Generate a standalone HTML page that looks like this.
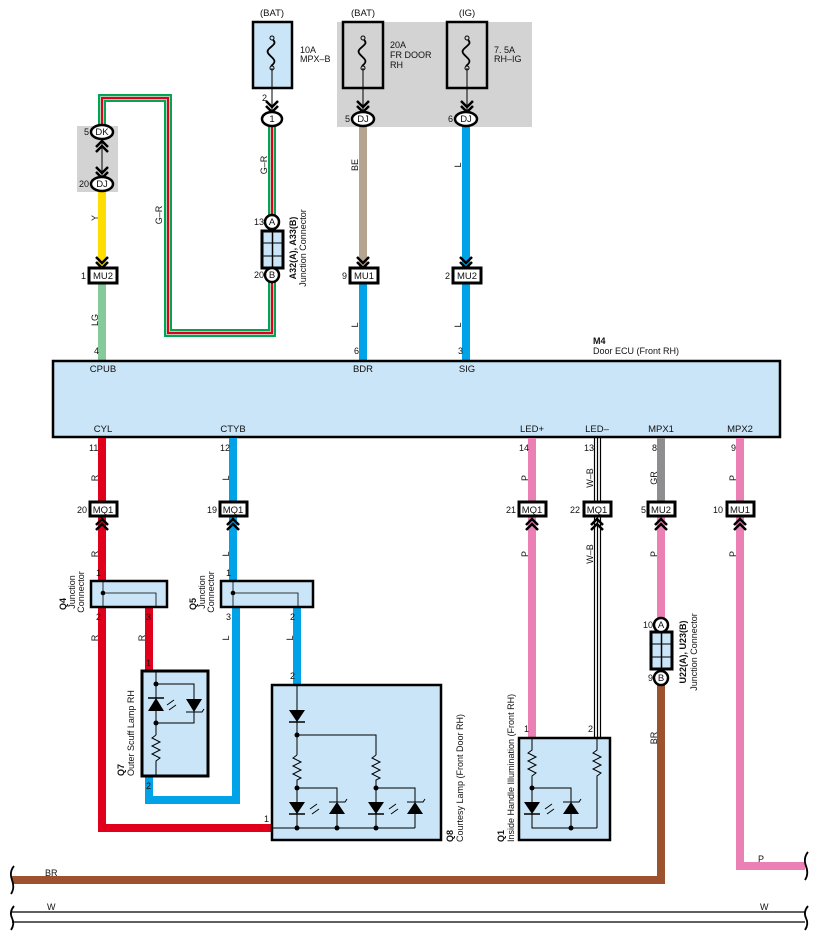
<!DOCTYPE html>
<html><head><meta charset="utf-8"><style>
html,body{margin:0;padding:0;background:#fff;}
svg{display:block;font-family:"Liberation Sans",sans-serif;}
.t{font-size:9px;fill:#111;}
.b{font-weight:bold;}
.c{font-size:9.5px;fill:#111;text-anchor:middle;}
.e{font-size:9px;fill:#111;text-anchor:end;}
</style></head><body>
<svg width="818" height="940" viewBox="0 0 818 940" xmlns="http://www.w3.org/2000/svg">
<defs>
<g id="chD"><polyline points="-6,-9 0,-3 6,-9" fill="none" stroke="#000" stroke-width="2.5"/><polyline points="-6,-4 0,2 6,-4" fill="none" stroke="#000" stroke-width="2.5"/></g>
<g id="chU"><polyline points="-6,9 0,3 6,9" fill="none" stroke="#000" stroke-width="2.5"/><polyline points="-6,4 0,-2 6,4" fill="none" stroke="#000" stroke-width="2.5"/></g>
<g id="fuse"><circle cx="0" cy="-15" r="2" fill="none" stroke="#000" stroke-width="1"/><circle cx="0" cy="15" r="2" fill="none" stroke="#000" stroke-width="1"/><path d="M1,-13 C7,-8 -7,-5 -4,0 C-1,5 7,7 -1,13" fill="none" stroke="#000" stroke-width="1.8"/></g>
<g id="jc"><rect x="-10" y="0" width="21" height="37" fill="#c9e5f7" stroke="#000" stroke-width="3"/><line x1="0.5" y1="0" x2="0.5" y2="37" stroke="#000" stroke-width="1.5"/><line x1="-10" y1="12" x2="11" y2="12" stroke="#000" stroke-width="1"/><line x1="-10" y1="25" x2="11" y2="25" stroke="#000" stroke-width="1"/></g>
</defs>

<rect x="77" y="126" width="41" height="66" fill="#d3d3d3"/>
<rect x="337" y="22" width="195" height="105" fill="#d3d3d3"/>

<rect x="253" y="22" width="39" height="66" fill="#c9e5f7" stroke="#000" stroke-width="2.5"/>
<use href="#fuse" x="272" y="53"/>
<rect x="343" y="22" width="40" height="66" fill="#d3d3d3" stroke="#000" stroke-width="2.5"/>
<use href="#fuse" x="363" y="53"/>
<rect x="447" y="22" width="40" height="66" fill="#d3d3d3" stroke="#000" stroke-width="2.5"/>
<use href="#fuse" x="467" y="53"/>
<text class="c" x="272" y="16">(BAT)</text>
<text class="c" x="363" y="16">(BAT)</text>
<text class="c" x="467" y="16">(IG)</text>
<text class="t" x="300" y="53">10A</text><text class="t" x="300" y="62">MPX–B</text>
<text class="t" x="390" y="48">20A</text><text class="t" x="390" y="58">FR DOOR</text><text class="t" x="390" y="68">RH</text>
<text class="t" x="494" y="53">7. 5A</text><text class="t" x="494" y="62">RH–IG</text>
<line x1="272" y1="68" x2="272" y2="110" stroke="#000" stroke-width="1"/>
<line x1="363" y1="68" x2="363" y2="110" stroke="#000" stroke-width="1"/>
<line x1="467" y1="68" x2="467" y2="110" stroke="#000" stroke-width="1"/>
<use href="#chD" x="272" y="110"/><use href="#chD" x="363" y="110"/><use href="#chD" x="467" y="110"/>
<text class="t" x="262" y="101">2</text>

<polyline points="272,126 272,333 168,333 168,98 102,98 102,126" fill="none" stroke="#00a651" stroke-width="8"/>
<polyline points="272,126 272,333 168,333 168,98 102,98 102,126" fill="none" stroke="#fff" stroke-width="3.5"/>
<polyline points="272,126 272,333 168,333 168,98 102,98 102,126" fill="none" stroke="#e0001b" stroke-width="2.2"/>
<use href="#jc" x="272" y="231"/>

<line x1="102" y1="138" x2="102" y2="178" stroke="#000" stroke-width="1"/>
<use href="#chU" x="102" y="143"/><use href="#chD" x="102" y="176"/>

<line x1="102" y1="190" x2="102" y2="268" stroke="#ffdd00" stroke-width="8"/>
<line x1="102" y1="283" x2="102" y2="361" stroke="#86c99b" stroke-width="8"/>
<line x1="363" y1="126" x2="363" y2="268" stroke="#b5a58f" stroke-width="8"/>
<line x1="363" y1="283" x2="363" y2="361" stroke="#00a3e8" stroke-width="8"/>
<line x1="466" y1="126" x2="466" y2="268" stroke="#00a3e8" stroke-width="8"/>
<line x1="466" y1="283" x2="466" y2="361" stroke="#00a3e8" stroke-width="8"/>
<use href="#chD" x="102" y="266"/><use href="#chD" x="363" y="266"/><use href="#chD" x="466" y="266"/>

<g fill="#fff" stroke="#000" stroke-width="2.5">
<ellipse cx="102" cy="132" rx="11" ry="7"/><ellipse cx="102" cy="184" rx="11" ry="7"/>
<ellipse cx="272" cy="119" rx="10" ry="7"/>
<ellipse cx="363" cy="119" rx="11" ry="7"/><ellipse cx="466" cy="119" rx="11" ry="7"/>
<circle cx="272" cy="222" r="7"/><circle cx="272" cy="275" r="7"/>
</g>
<text class="c" x="102" y="135">DK</text><text class="c" x="102" y="187">DJ</text>
<text class="c" x="272" y="122">1</text><text class="c" x="363" y="122">DJ</text><text class="c" x="466" y="122">DJ</text>
<text class="c" x="272" y="225">A</text><text class="c" x="272" y="278">B</text>
<text class="e" x="89" y="135">5</text><text class="e" x="89" y="187">20</text>
<text class="e" x="350" y="122">5</text><text class="e" x="453" y="122">6</text>
<text class="e" x="264" y="225">13</text><text class="e" x="264" y="278">20</text>
<text class="t b" transform="translate(296,248) rotate(-90)" text-anchor="middle">A32(A), A33(B)</text>
<text class="t" transform="translate(306,248) rotate(-90)" text-anchor="middle">Junction Connector</text>

<g fill="#fff" stroke="#000" stroke-width="3">
<rect x="89" y="268" width="28" height="15"/><rect x="350" y="268" width="28" height="15"/><rect x="453" y="268" width="28" height="15"/>
</g>
<text class="c" x="103" y="279">MU2</text><text class="c" x="364" y="279">MU1</text><text class="c" x="467" y="279">MU2</text>
<text class="t" x="81" y="279">1</text><text class="t" x="342" y="279">9</text><text class="t" x="445" y="279">2</text>

<g class="t" text-anchor="middle">
<text transform="translate(98,218) rotate(-90)">Y</text>
<text transform="translate(98,320) rotate(-90)">LG</text>
<text transform="translate(162,215) rotate(-90)">G–R</text>
<text transform="translate(267,165) rotate(-90)">G–R</text>
<text transform="translate(358,165) rotate(-90)">BE</text>
<text transform="translate(358,325) rotate(-90)">L</text>
<text transform="translate(461,165) rotate(-90)">L</text>
<text transform="translate(461,325) rotate(-90)">L</text>
</g>

<rect x="53" y="361" width="727" height="76" fill="#c9e5f7" stroke="#000" stroke-width="2.5"/>
<text class="t b" x="593" y="344">M4</text>
<text class="t" x="593" y="354">Door ECU (Front RH)</text>
<text class="t" x="94" y="354">4</text><text class="t" x="354" y="354">6</text><text class="t" x="458" y="354">3</text>
<text class="c" x="103" y="372">CPUB</text><text class="c" x="363" y="372">BDR</text><text class="c" x="467" y="372">SIG</text>
<text class="c" x="103" y="432">CYL</text><text class="c" x="233" y="432">CTYB</text><text class="c" x="532" y="432">LED+</text><text class="c" x="597" y="432">LED–</text><text class="c" x="661" y="432">MPX1</text><text class="c" x="740" y="432">MPX2</text>

<polyline points="102,438 102,828 272,828" fill="none" stroke="#e0001b" stroke-width="8"/>
<line x1="149" y1="607" x2="149" y2="670" stroke="#e0001b" stroke-width="8"/>
<line x1="233" y1="438" x2="233" y2="580" stroke="#00a3e8" stroke-width="8"/>
<polyline points="149,776 149,800 236,800 236,607" fill="none" stroke="#00a3e8" stroke-width="8"/>
<line x1="297" y1="607" x2="297" y2="684" stroke="#00a3e8" stroke-width="8"/>
<line x1="532" y1="438" x2="532" y2="738" stroke="#ea80b4" stroke-width="8"/>
<g stroke="#000" stroke-width="1.2"><line x1="594.5" y1="438" x2="594.5" y2="738"/><line x1="597.5" y1="438" x2="597.5" y2="738"/><line x1="600.5" y1="438" x2="600.5" y2="738"/></g>
<line x1="661" y1="438" x2="661" y2="502" stroke="#8e8e90" stroke-width="8"/>
<line x1="661" y1="516" x2="661" y2="620" stroke="#ea80b4" stroke-width="8"/>
<polyline points="661,680 661,880 12,880" fill="none" stroke="#9c522e" stroke-width="8"/>
<polyline points="740,438 740,866 805,866" fill="none" stroke="#ea80b4" stroke-width="8"/>
<line x1="12" y1="912" x2="805" y2="912" stroke="#000" stroke-width="1.3"/>
<line x1="12" y1="922" x2="805" y2="922" stroke="#000" stroke-width="1.3"/>
<g fill="none" stroke="#000" stroke-width="1.8">
<path d="M14,866 Q9,872 12,880 Q15,888 11,894"/>
<path d="M14,906 Q9,912 12,918 Q15,924 11,930"/>
<path d="M808,852 Q803,858 806,866 Q809,874 805,880"/>
<path d="M808,906 Q803,912 806,918 Q809,924 805,930"/>
</g>
<text class="t" x="45" y="876">BR</text><text class="t" x="758" y="862">P</text>
<text class="t" x="47" y="910">W</text><text class="t" x="760" y="910">W</text>

<g fill="#fff" stroke="#000" stroke-width="3">
<rect x="90" y="502" width="27" height="14"/><rect x="220" y="502" width="27" height="14"/>
<rect x="519" y="502" width="27" height="14"/><rect x="584" y="502" width="27" height="14"/>
<rect x="648" y="502" width="27" height="14"/><rect x="727" y="502" width="27" height="14"/>
</g>
<text class="c" x="103" y="513">MQ1</text><text class="c" x="233" y="513">MQ1</text><text class="c" x="532" y="513">MQ1</text><text class="c" x="597" y="513">MQ1</text><text class="c" x="661" y="513">MU2</text><text class="c" x="740" y="513">MU1</text>
<text class="t" x="77" y="513">20</text><text class="t" x="207" y="513">19</text><text class="t" x="506" y="513">21</text><text class="t" x="570" y="513">22</text><text class="t" x="641" y="513">5</text><text class="t" x="713" y="513">10</text>
<use href="#chU" x="102" y="521"/><use href="#chU" x="233" y="521"/><use href="#chU" x="532" y="521"/><use href="#chU" x="597" y="521"/><use href="#chU" x="661" y="521"/><use href="#chU" x="740" y="521"/>
<text class="t" x="89" y="451">11</text><text class="t" x="220" y="451">12</text><text class="t" x="519" y="451">14</text><text class="t" x="584" y="451">13</text><text class="t" x="652" y="451">8</text><text class="t" x="731" y="451">9</text>

<g class="t" text-anchor="middle">
<text transform="translate(98,478) rotate(-90)">R</text><text transform="translate(98,554) rotate(-90)">R</text>
<text transform="translate(229,478) rotate(-90)">L</text><text transform="translate(229,554) rotate(-90)">L</text>
<text transform="translate(528,478) rotate(-90)">P</text><text transform="translate(528,554) rotate(-90)">P</text>
<text transform="translate(593,478) rotate(-90)">W–B</text><text transform="translate(593,554) rotate(-90)">W–B</text>
<text transform="translate(657,478) rotate(-90)">GR</text><text transform="translate(657,554) rotate(-90)">P</text>
<text transform="translate(736,478) rotate(-90)">P</text><text transform="translate(736,554) rotate(-90)">P</text>
<text transform="translate(98,638) rotate(-90)">R</text><text transform="translate(145,638) rotate(-90)">R</text>
<text transform="translate(229,638) rotate(-90)">L</text><text transform="translate(293,638) rotate(-90)">L</text>
<text transform="translate(657,738) rotate(-90)">BR</text>
</g>

<line x1="661" y1="620" x2="661" y2="680" stroke="#000" stroke-width="1"/>
<use href="#jc" x="661" y="632"/>
<g fill="#fff" stroke="#000" stroke-width="2.5"><circle cx="661" cy="625" r="7"/><circle cx="661" cy="678" r="7"/></g>
<text class="c" x="661" y="628">A</text><text class="c" x="661" y="681">B</text>
<text class="e" x="653" y="628">10</text><text class="e" x="653" y="681">9</text>
<text class="t b" transform="translate(686,652) rotate(-90)" text-anchor="middle">U22(A), U23(B)</text>
<text class="t" transform="translate(697,652) rotate(-90)" text-anchor="middle">Junction Connector</text>

<rect x="91" y="581" width="76" height="26" fill="#c9e5f7" stroke="#000" stroke-width="2.5"/>
<polyline points="103,581 103,607" stroke="#000" fill="none" stroke-width="0.8"/>
<polyline points="103,593 156,593 156,607" stroke="#000" fill="none" stroke-width="0.8"/>
<circle cx="103" cy="593" r="2.3" fill="#000"/>
<rect x="221" y="581" width="92" height="26" fill="#c9e5f7" stroke="#000" stroke-width="2.5"/>
<polyline points="233,581 233,607" stroke="#000" fill="none" stroke-width="0.8"/>
<polyline points="233,593 298,593 298,607" stroke="#000" fill="none" stroke-width="0.8"/>
<circle cx="233" cy="593" r="2.3" fill="#000"/>
<text class="t" x="96" y="576">1</text><text class="t" x="96" y="620">2</text><text class="t" x="146" y="620">3</text>
<text class="t" x="226" y="576">1</text><text class="t" x="226" y="620">3</text><text class="t" x="290" y="620">2</text>
<g class="t" text-anchor="middle">
<text class="b" transform="translate(66,604) rotate(-90)">Q4</text>
<text transform="translate(75,592) rotate(-90)">Junction</text><text transform="translate(84,592) rotate(-90)">Connector</text>
<text class="b" transform="translate(196,604) rotate(-90)">Q5</text>
<text transform="translate(205,592) rotate(-90)">Junction</text><text transform="translate(214,592) rotate(-90)">Connector</text>
</g>

<rect x="142" y="671" width="66" height="105" fill="#c9e5f7" stroke="#000" stroke-width="3"/>
<g stroke="#000" stroke-width="1" fill="none">
<line x1="156" y1="671" x2="156" y2="735"/><polyline points="156,684 194,684 194,723 156,723"/>
<polyline points="156,735 152,738 160,742 152,746 160,750 152,754 160,758 156,761 156,776"/>
</g>
<polygon points="156,698 148,711 164,711" fill="#000"/><line x1="148" y1="698" x2="164" y2="698" stroke="#000" stroke-width="1.5"/>
<polygon points="194,712 186,699 202,699" fill="#000"/><polyline points="186,712 202,712 204,709" stroke="#000" fill="none"/>
<g stroke="#000" stroke-width="1"><line x1="167" y1="705" x2="174" y2="700"/><line x1="169" y1="710" x2="176" y2="705"/></g>
<circle cx="156" cy="684" r="2.5" fill="#000"/><circle cx="156" cy="723" r="2.5" fill="#000"/>
<text class="t" x="146" y="666">1</text><text class="t" x="146" y="789">2</text>
<text class="t b" transform="translate(124,776) rotate(-90)">Q7</text>
<text class="t" transform="translate(134,776) rotate(-90)">Outer  Scuff Lamp RH</text>

<rect x="272" y="685" width="169" height="155" fill="#c9e5f7" stroke="#000" stroke-width="2.5"/>
<g stroke="#000" stroke-width="1" fill="none">
<line x1="297" y1="685" x2="297" y2="755"/><polyline points="297,735 376,735 376,755"/>
<polyline points="297,755 293,758 301,762 293,766 301,770 293,774 301,778 297,780 297,828"/>
<polyline points="376,755 372,758 380,762 372,766 380,770 372,774 380,778 376,780 376,828"/>
<polyline points="297,788 337,788 337,828"/><polyline points="376,788 415,788 415,828"/>
<line x1="272" y1="828" x2="415" y2="828"/>
</g>
<polygon points="297,722 289,710 305,710" fill="#000"/><line x1="289" y1="722" x2="305" y2="722" stroke="#000" stroke-width="1.5"/>
<polygon points="297,814 289,802 305,802" fill="#000"/><line x1="289" y1="814" x2="305" y2="814" stroke="#000" stroke-width="1.5"/>
<polygon points="376,814 368,802 384,802" fill="#000"/><line x1="368" y1="814" x2="384" y2="814" stroke="#000" stroke-width="1.5"/>
<polygon points="337,802 329,814 345,814" fill="#000"/><polyline points="329,802 345,802 347,799" stroke="#000" fill="none"/>
<polygon points="415,802 407,814 423,814" fill="#000"/><polyline points="407,802 423,802 425,799" stroke="#000" fill="none"/>
<g stroke="#000" stroke-width="1"><line x1="310" y1="809" x2="317" y2="804"/><line x1="312" y1="814" x2="319" y2="809"/><line x1="389" y1="809" x2="396" y2="804"/><line x1="391" y1="814" x2="398" y2="809"/></g>
<g fill="#000"><circle cx="297" cy="735" r="2.5"/><circle cx="297" cy="788" r="2.5"/><circle cx="376" cy="788" r="2.5"/><circle cx="297" cy="828" r="2.5"/><circle cx="337" cy="828" r="2.5"/><circle cx="376" cy="828" r="2.5"/></g>
<text class="t" x="290" y="679">2</text><text class="t" x="264" y="822">1</text>
<text class="t b" transform="translate(453,842) rotate(-90)">Q8</text>
<text class="t" transform="translate(463,842) rotate(-90)">Courtesy Lamp (Front Door RH)</text>

<rect x="519" y="738" width="91" height="102" fill="#c9e5f7" stroke="#000" stroke-width="2.5"/>
<g stroke="#000" stroke-width="1" fill="none">
<polyline points="532,738 532,750 528,753 536,757 528,761 536,765 528,769 536,773 532,776 532,828 597,828"/>
<polyline points="597,738 597,750 593,753 601,757 593,761 601,765 593,769 601,773 597,776 597,828"/>
<polyline points="532,788 571,788 571,828"/>
</g>
<polygon points="532,814 524,802 540,802" fill="#000"/><line x1="524" y1="814" x2="540" y2="814" stroke="#000" stroke-width="1.5"/>
<polygon points="571,802 563,814 579,814" fill="#000"/><polyline points="563,802 579,802 581,799" stroke="#000" fill="none"/>
<g stroke="#000" stroke-width="1"><line x1="545" y1="809" x2="552" y2="804"/><line x1="547" y1="814" x2="554" y2="809"/></g>
<g fill="#000"><circle cx="532" cy="788" r="2.5"/><circle cx="571" cy="828" r="2.5"/></g>
<text class="t" x="524" y="732">1</text><text class="t" x="588" y="732">2</text>
<text class="t b" transform="translate(504,842) rotate(-90)">Q1</text>
<text class="t" transform="translate(514,842) rotate(-90)">Inside Handle Illumination (Front RH)</text>
</svg>
</body></html>
